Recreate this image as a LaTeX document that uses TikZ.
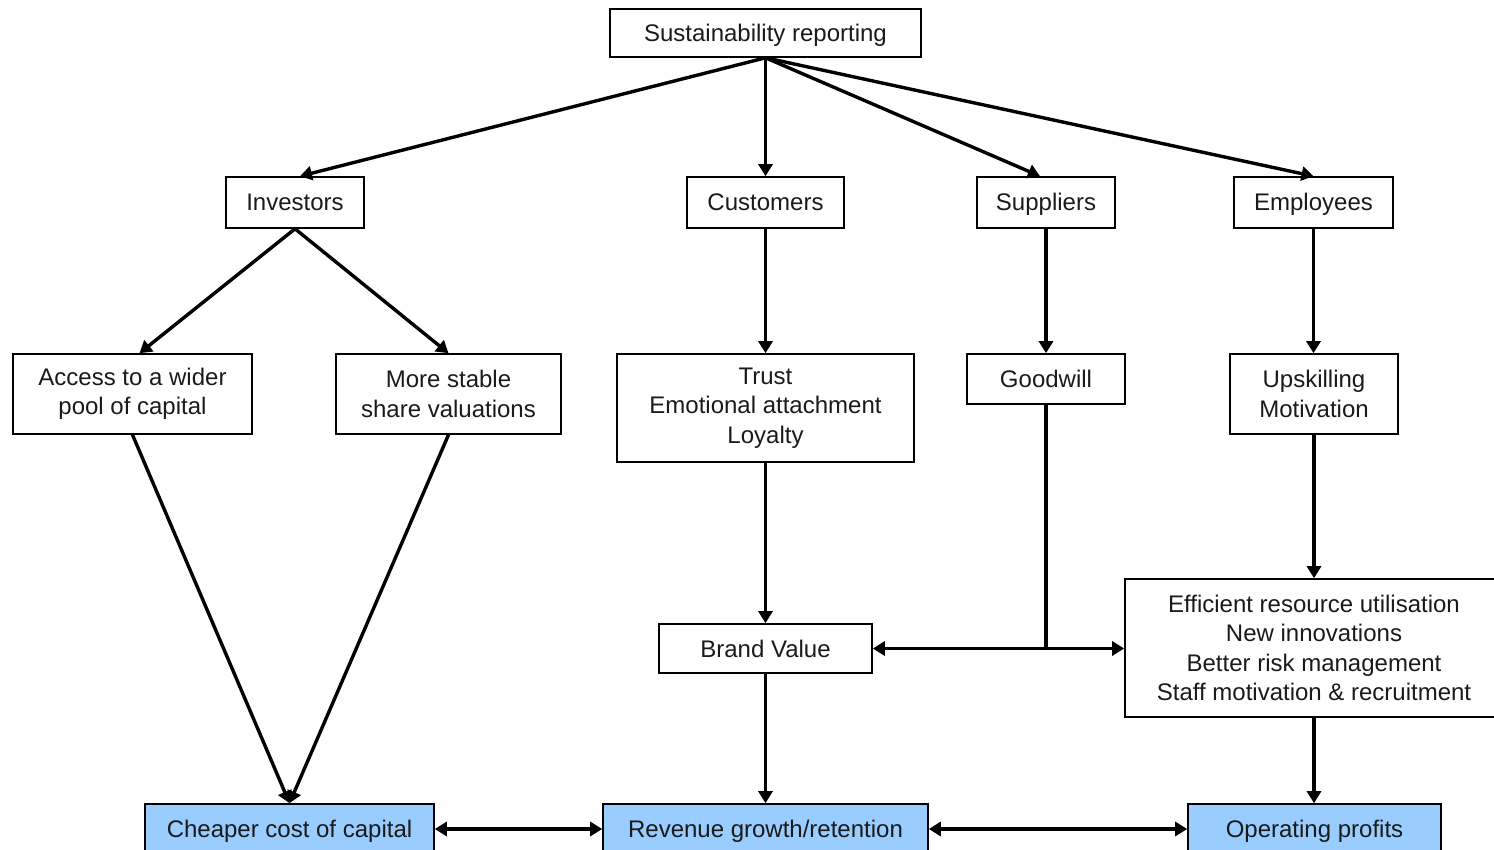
\documentclass[tikz,border=0pt]{standalone}
\usepackage{fontspec}
\setmainfont{Liberation Sans}
\usetikzlibrary{arrows.meta}
\definecolor{outblue}{HTML}{99CCFF}
\definecolor{txt}{HTML}{1A1A1A}
\tikzset{
  box/.style={draw=black, line width=1.6pt, rectangle, inner sep=0pt, align=center,
    text=txt, font=\fontsize{24}{29.5}\selectfont},
  one/.style={text height=18pt, text depth=1pt},
  outbox/.style={box, one, fill=outblue},
  arr/.style={line width=3.4pt, -{Triangle[length=12pt,width=14pt]}},
  darr/.style={line width=3.4pt, {Triangle[length=12pt,width=14pt]}-{Triangle[length=12pt,width=14pt]}},
  ln/.style={line width=3.4pt}
}
\begin{document}
\begin{tikzpicture}[x=1pt,y=-1pt]
\useasboundingbox (0,0) rectangle (1494,850);
\node[box, one, minimum width=311pt, minimum height=48pt] (sr) at (765.5,33) {Sustainability reporting};
\node[box, one, minimum width=138pt, minimum height=51pt] (inv) at (295,202.5) {Investors};
\node[box, one, minimum width=157pt, minimum height=51pt] (cus) at (765.5,202.5) {Customers};
\node[box, one, minimum width=138pt, minimum height=51pt] (sup) at (1046,202.5) {Suppliers};
\node[box, one, minimum width=159pt, minimum height=51pt] (emp) at (1313.5,202.5) {Employees};
\node[box, minimum width=239pt, minimum height=80pt] (acc) at (132.5,394) {Access to a wider\\pool of capital};
\node[box, minimum width=225pt, minimum height=80pt] (msv) at (448.5,394) {More stable\\share valuations};
\node[box, minimum width=297pt, minimum height=108pt] (tru) at (765.5,408) {Trust\\Emotional attachment\\Loyalty};
\node[box, one, minimum width=158pt, minimum height=50pt] (gw) at (1046,379) {Goodwill};
\node[box, minimum width=168pt, minimum height=80pt] (ups) at (1314,394) {Upskilling\\Motivation};
\node[box, one, minimum width=213pt, minimum height=49pt] (bv) at (765.5,648.5) {Brand Value};
\node[box, minimum width=378pt, minimum height=138pt] (eff) at (1314,648) {Efficient resource utilisation\\New innovations\\Better risk management\\Staff motivation \& recruitment};
\node[outbox, minimum width=289pt, minimum height=50pt] (chp) at (289.5,829) {Cheaper cost of capital};
\node[outbox, minimum width=325pt, minimum height=50pt] (rev) at (765.5,829) {Revenue growth/retention};
\node[outbox, minimum width=253pt, minimum height=50pt] (op) at (1314.5,829) {Operating profits};
\coordinate (j) at (1046,648.5);
% top level
\draw[arr] (sr.south) -- ([xshift=5pt]inv.north);
\draw[arr] (sr.south) -- (cus.north);
\draw[arr] (sr.south) -- ([xshift=-6pt]sup.north);
\draw[arr] (sr.south) -- (emp.north);
% investors
\draw[arr] (inv.south) -- ([xshift=7pt]acc.north);
\draw[arr] (inv.south) -- (msv.north);
\draw[arr] (acc.south) -- (chp.north);
\draw[arr] (msv.south) -- (chp.north);
% customers
\draw[arr] (cus.south) -- (tru.north);
\draw[arr] (tru.south) -- (bv.north);
\draw[arr] (bv.south) -- (rev.north);
% suppliers
\draw[arr] (sup.south) -- (gw.north);
\draw[ln] (gw.south) -- (j);
\draw[arr] (j) -- (j -| bv.east);
\draw[arr] (j) -- (j -| eff.west);
% employees
\draw[arr] (emp.south) -- (emp.south |- ups.north);
\draw[arr] (ups.south) -- (ups.south |- eff.north);
\draw[arr] (eff.south) -- (eff.south |- op.north);
% bottom
\draw[darr] (chp.east) -- (rev.west);
\draw[darr] (rev.east) -- (op.west);
\end{tikzpicture}
\end{document}
